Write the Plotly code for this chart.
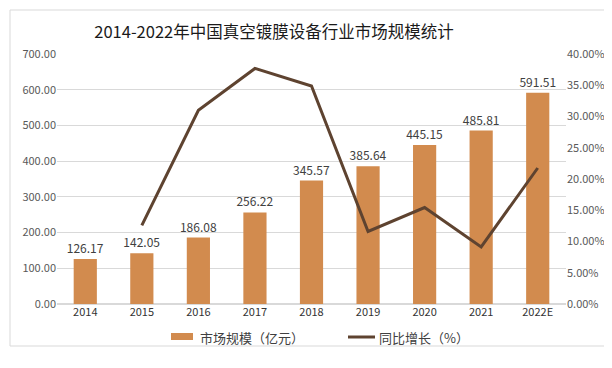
import plotly.graph_objects as go

years = ["2014", "2015", "2016", "2017", "2018", "2019", "2020", "2021", "2022E"]
market = [126.17, 142.05, 186.08, 256.22, 345.57, 385.64, 445.15, 485.81, 591.51]
growth = [None, 0.1259, 0.3100, 0.3769, 0.3487, 0.1160, 0.1543, 0.0913, 0.2176]
left_ticks = [0, 100, 200, 300, 400, 500, 600, 700]
right_ticks = [0, 0.05, 0.10, 0.15, 0.20, 0.25, 0.30, 0.35, 0.40]
legend_names = ["市场规模（亿元）", "同比增长（%）"]

font_family = "Noto Sans CJK SC, Noto Sans, sans-serif"
L, R, T, B = 49, 54, 46, 72
PW, PH = 612 - L - R, 368 - T - B


def px(x):
    return (x - L) / PW


def py(y):
    return (368 - B - y) / PH


bar_color = "#d28b4e"
line_color = "#5e4330"

fig = go.Figure()
fig.add_trace(go.Bar(
    x=years, y=market, name=legend_names[0],
    marker=dict(color=bar_color, line=dict(width=0)),
    text=[f"{v:.2f}" for v in market], textposition="outside",
    constraintext="none",
    textfont=dict(size=12, color="#404040"),
    cliponaxis=False, showlegend=False,
))
fig.add_trace(go.Scatter(
    x=years, y=growth, name=legend_names[1], yaxis="y2",
    mode="lines", line=dict(color=line_color, width=3), showlegend=False,
))

fig.update_layout(
    width=612, height=368,
    margin=dict(l=L, r=R, t=T, b=B),
    paper_bgcolor="white", plot_bgcolor="white",
    font=dict(family=font_family, color="#595959", size=11),
    title=dict(text="2014-2022年中国真空镀膜设备行业市场规模统计",
               x=266/612, xanchor="center", y=1-24/368, yanchor="middle",
               font=dict(size=16.5, color="#1a1a1a", family=font_family)),
    bargap=0.59,
    xaxis=dict(showgrid=False, showline=False, ticks="",
               tickfont=dict(size=11, color="#333333")),
    yaxis=dict(range=[0, 700], tickvals=left_ticks, tickformat=".2f",
               showgrid=True, gridcolor="#d9d9d9", gridwidth=1,
               zeroline=True, zerolinecolor="#d9d9d9", ticks="",
               tickfont=dict(size=11, color="#595959")),
    yaxis2=dict(range=[0, 0.40], tickvals=right_ticks, tickformat=".2%",
                overlaying="y", side="right", showgrid=False, zeroline=False,
                ticks="", tickfont=dict(size=11, color="#595959")),
    shapes=[
        dict(type="rect", xref="paper", yref="paper", x0=px(2), x1=px(604),
             y0=py(338), y1=py(2), line=dict(color="#d9d9d9", width=1)),
        dict(type="line", xref="paper", yref="paper", x0=px(0), x1=px(612),
             y0=py(364), y1=py(364), line=dict(color="#e6e6e6", width=1)),
        dict(type="rect", xref="paper", yref="paper", x0=px(163), x1=px(185),
             y0=py(332), y1=py(325), fillcolor=bar_color, line=dict(width=0)),
        dict(type="line", xref="paper", yref="paper", x0=px(340), x1=px(367),
             y0=py(329), y1=py(329), line=dict(color=line_color, width=3)),
    ],
    annotations=[
        dict(text=legend_names[0], xref="paper", yref="paper", x=px(190), y=py(329),
             xanchor="left", yanchor="middle", showarrow=False,
             font=dict(size=13, color="#404040")),
        dict(text=legend_names[1], xref="paper", yref="paper", x=px(369), y=py(329),
             xanchor="left", yanchor="middle", showarrow=False,
             font=dict(size=13, color="#404040")),
    ],
)

fig.write_html("out.html")
